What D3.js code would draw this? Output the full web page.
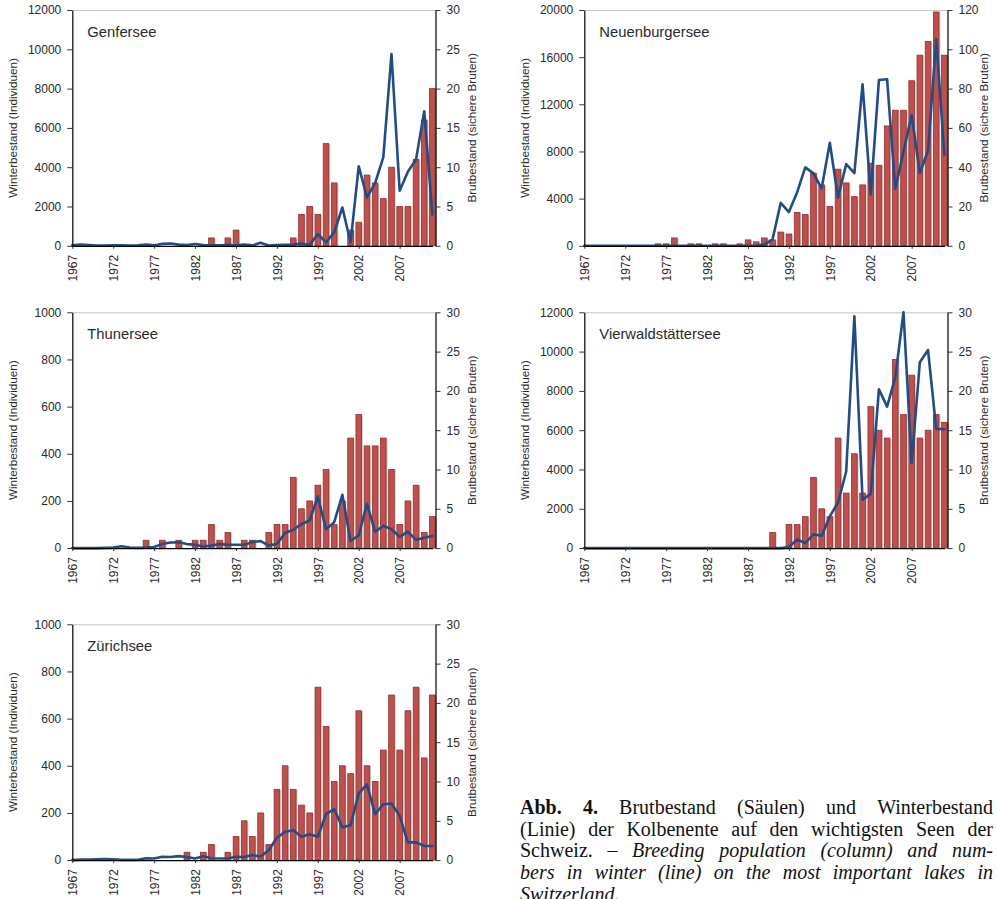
<!DOCTYPE html>
<html>
<head>
<meta charset="utf-8">
<script src="https://cdn.jsdelivr.net/npm/d3@7"></script>
<style>
  body { margin: 0; background: #fff; }
  svg { display: block; }
  .panel text { font-family: "Liberation Sans", Arial, sans-serif; fill: #2a2a2a; }
  .caption text { font-family: "Liberation Serif", "Times New Roman", serif; fill: #111; font-size: 20px; }
</style>
</head>
<body>
<svg id="chart" width="997" height="899"></svg>
<script>
// categories
const years = d3.range(1967, 2012);
const yearTicks = [1967, 1972, 1977, 1982, 1987, 1992, 1997, 2002, 2007];

// Brutbestand (sichere Bruten) = columns, Winterbestand (Individuen) = line, 1967-2011
const genfBrut = [0,0,0,0,0,0,0,0,0,0,0,0,0,0,0,0,0,1,0,1,2,0,0,0,0,0,0,1,4,5,4,13,8,0,2,3,9,8,6,10,5,5,11,16,20];
const genfWinter = [20,60,40,10,10,20,30,10,20,60,20,100,120,60,40,90,40,20,20,40,30,60,20,150,10,40,50,60,120,40,600,170,680,1950,170,4050,2460,3190,4500,9760,2800,3770,4390,6840,1600];

const neuBrut = [0,0,0,0,0,0,0,0,0,1,1,4,0,1,1,0,1,1,0,1,3,2,4,3,7,6,17,16,37,31,20,39,32,25,31,42,41,61,69,69,84,97,104,119,97];
const neuWinter = [0,0,0,0,0,0,0,0,0,0,0,0,0,0,0,0,0,0,0,0,0,0,100,540,3650,2860,4530,6650,6140,4870,8740,4070,6930,6170,13700,4360,14060,14120,4840,7980,11090,6170,8060,17540,7700];

const thunBrut = [0,0,0,0,0,0,0,0,0,1,0,1,0,1,0,1,1,3,1,2,0,1,1,0,2,3,3,9,5,6,8,10,3,6,14,17,13,13,14,10,3,6,8,2,4];
const thunWinter = [0,0,0,0,1,2,8,2,1,2,5,17,24,25,17,14,7,11,17,14,14,14,25,30,11,17,64,78,102,117,219,80,110,226,30,54,188,69,95,80,48,70,35,44,51];

const vierBrut = [0,0,0,0,0,0,0,0,0,0,0,0,0,0,0,0,0,0,0,0,0,0,0,2,0,3,3,4,9,5,4,14,7,12,7,18,15,14,24,17,22,14,15,17,16];
const vierWinter = [0,0,0,0,0,0,0,0,0,0,0,0,0,0,0,0,0,0,0,0,0,0,0,0,0,50,440,250,700,630,1610,2320,3900,11800,2460,2760,8080,7200,8700,12000,4320,9460,10080,6070,6050];

const zurBrut = [0,0,0,0,0,0,0,0,0,0,0,0,0,0,1,0,1,2,0,1,3,5,3,6,2,9,12,9,7,6,22,17,10,12,11,19,12,10,14,21,14,19,22,13,21];
const zurWinter = [0,2,2,3,4,3,1,1,1,8,7,14,13,17,13,7,16,8,7,7,14,13,22,14,42,95,120,127,99,110,99,195,216,139,148,283,321,195,237,240,188,75,75,60,60];

// axis tick labels
const winterTicks12k = [0, 2000, 4000, 6000, 8000, 10000, 12000];
const winterTicks20k = [0, 4000, 8000, 12000, 16000, 20000];
const winterTicks1k = [0, 200, 400, 600, 800, 1000];
const brutTicks30 = [0, 5, 10, 15, 20, 25, 30];
const brutTicks120 = [0, 20, 40, 60, 80, 100, 120];

const panels = [
  { name: "Genfersee", col: 0, row: 0, brut: genfBrut, winter: genfWinter, wTicks: winterTicks12k, bTicks: brutTicks30 },
  { name: "Neuenburgersee", col: 1, row: 0, brut: neuBrut, winter: neuWinter, wTicks: winterTicks20k, bTicks: brutTicks120 },
  { name: "Thunersee", col: 0, row: 1, brut: thunBrut, winter: thunWinter, wTicks: winterTicks1k, bTicks: brutTicks30 },
  { name: "Vierwaldstättersee", col: 1, row: 1, brut: vierBrut, winter: vierWinter, wTicks: winterTicks12k, bTicks: brutTicks30 },
  { name: "Zürichsee", col: 0, row: 2, brut: zurBrut, winter: zurWinter, wTicks: winterTicks1k, bTicks: brutTicks30 }
];

// layout
const colX = [72.3, 584.3];
const rowY = [10, 312.3, 624.3];
const W = 363.2, H = 235.8;
const barW = 5.6;

const svg = d3.select("#chart");

panels.forEach(p => {
  const g = svg.append("g")
    .attr("class", "panel")
    .attr("transform", `translate(${colX[p.col]},${rowY[p.row]})`);

  const x = d3.scaleLinear().domain([1967, 2011]).range([0, W - 3.1]);
  const yW = d3.scaleLinear().domain([0, d3.max(p.wTicks)]).range([H, 0]);
  const yB = d3.scaleLinear().domain([0, d3.max(p.bTicks)]).range([H, 0]);

  // top frame line
  g.append("line")
    .attr("x1", 0).attr("x2", W).attr("y1", 0.5).attr("y2", 0.5)
    .attr("stroke", "#c4c4c4").attr("stroke-width", 1);

  const rows = years.map((yr, i) => ({ year: yr, brut: p.brut[i], winter: p.winter[i] }));
  const barRows = rows.filter(d => d.brut > 0);

  // bar shadow
  g.append("g").selectAll("rect")
    .data(barRows)
    .join("rect")
    .attr("x", d => x(d.year) - barW / 2 + 1.4)
    .attr("y", d => yB(d.brut) + 0.6)
    .attr("width", barW)
    .attr("height", d => H - yB(d.brut) - 0.6)
    .attr("fill", "#cfcfcf");

  // columns
  g.append("g").selectAll("rect")
    .data(barRows)
    .join("rect")
    .attr("x", d => x(d.year) - barW / 2)
    .attr("y", d => yB(d.brut))
    .attr("width", barW)
    .attr("height", d => H - yB(d.brut))
    .attr("fill", "#c0504d")
    .attr("stroke", "#8f302d")
    .attr("stroke-width", 0.8);

  // winter line
  const line = d3.line()
    .x(d => x(d.year))
    .y(d => yW(d.winter));

  g.append("path")
    .datum(rows)
    .attr("d", line)
    .attr("fill", "none")
    .attr("stroke", "#224d84")
    .attr("stroke-width", 2.6)
    .attr("stroke-linejoin", "round")
    .attr("stroke-linecap", "round");

  // axes
  const leftAxis = g.append("g")
    .call(d3.axisLeft(yW).tickValues(p.wTicks).tickSize(5).tickSizeOuter(0).tickPadding(6).tickFormat(d3.format("d")));
  const rightAxis = g.append("g")
    .attr("transform", `translate(${W},0)`)
    .call(d3.axisRight(yB).tickValues(p.bTicks).tickSize(5).tickSizeOuter(0).tickPadding(6).tickFormat(d3.format("d")));
  const bottomAxis = g.append("g")
    .attr("transform", `translate(0,${H})`)
    .call(d3.axisBottom(x).tickValues(yearTicks).tickSize(3).tickSizeOuter(0).tickFormat(d3.format("d")));

  bottomAxis.selectAll("text")
    .attr("transform", "rotate(-90)")
    .attr("x", -9)
    .attr("y", 0)
    .attr("dy", "0.35em")
    .style("text-anchor", "end");

  [leftAxis, rightAxis, bottomAxis].forEach(a => {
    a.selectAll("text").style("font-size", "12px").style("font-family", null);
    a.select(".domain").attr("stroke", "#000").attr("stroke-width", 1.2);
    a.selectAll(".tick line").attr("stroke", "#333");
  });

  // axis titles
  g.append("text")
    .attr("transform", `translate(-59,${H / 2}) rotate(-90)`)
    .attr("text-anchor", "middle")
    .attr("dy", "0.35em")
    .style("font-size", "11.7px")
    .text("Winterbestand (Individuen)");

  g.append("text")
    .attr("transform", `translate(${W + 36.5},${H / 2}) rotate(-90)`)
    .attr("text-anchor", "middle")
    .attr("dy", "0.35em")
    .style("font-size", "11.7px")
    .text("Brutbestand (sichere Bruten)");

  // lake name
  g.append("text")
    .attr("x", 15)
    .attr("y", 26.7)
    .style("font-size", "14.8px")
    .text(p.name);
});

// caption, justified word by word
const captionLines = [
  [["Abb.", "b"], ["4.", "b"], ["Brutbestand"], ["(Säulen)"], ["und"], ["Winterbestand"]],
  [["(Linie)"], ["der"], ["Kolbenente"], ["auf"], ["den"], ["wichtigsten"], ["Seen"], ["der"]],
  [["Schweiz."], ["–"], ["Breeding", "i"], ["population", "i"], ["(column)", "i"], ["and", "i"], ["num-", "i"]],
  [["bers", "i"], ["in", "i"], ["winter", "i"], ["(line)", "i"], ["on", "i"], ["the", "i"], ["most", "i"], ["important", "i"], ["lakes", "i"], ["in", "i"]],
  [["Switzerland.", "i"]]
];
const capX = 520, capW = 473, capY = 814, capLead = 21.7;
const cap = svg.append("g").attr("class", "caption");

captionLines.forEach((words, li) => {
  const y = capY + li * capLead;
  const els = words.map(w => cap.append("text")
    .attr("y", y)
    .style("font-weight", w[1] === "b" ? "bold" : null)
    .style("font-style", w[1] === "i" ? "italic" : null)
    .text(w[0]));
  const widths = els.map(e => e.node().getComputedTextLength());
  const last = li === captionLines.length - 1;
  const gap = last ? 5 : (capW - d3.sum(widths)) / (words.length - 1);
  let cx = capX;
  els.forEach((e, i) => { e.attr("x", cx); cx += widths[i] + gap; });
});
</script>
</body>
</html>
